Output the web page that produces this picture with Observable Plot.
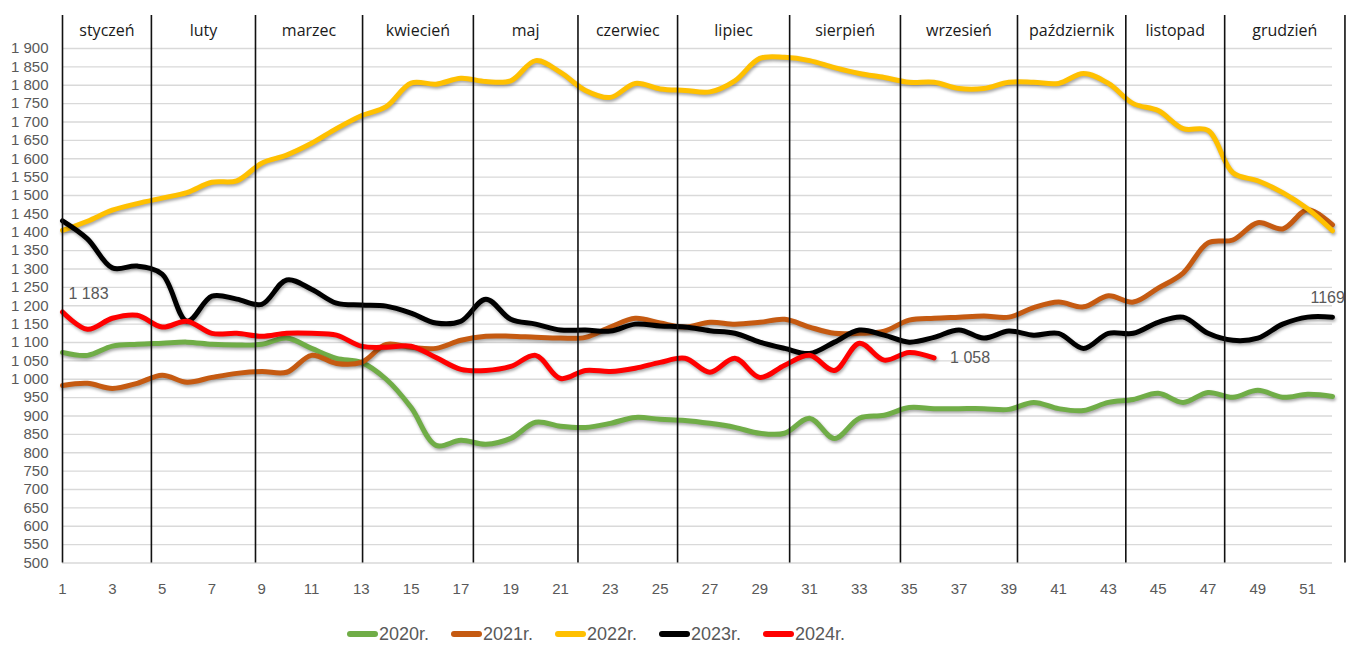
<!DOCTYPE html>
<html>
<head>
<meta charset="utf-8">
<script src="https://cdn.jsdelivr.net/npm/d3@7"></script>
<script src="https://cdn.jsdelivr.net/npm/@observablehq/plot@0.6"></script>
<style>
  body { margin: 0; background: #fff; }
  #chart svg { display: block; }
  #legend { height: 46px; position: relative; font-family: 'Liberation Sans Narrow', 'Liberation Sans', Arial, sans-serif; }
  #legend .items { position: absolute; left: 347px; top: 24px; display: flex; }
  #legend .item { width: 104px; display: flex; align-items: center; height: 20px; }
  #legend .sw { width: 31px; height: 6px; border-radius: 3px; }
  #legend .lb { font-size: 18px; color: #595959; margin-left: 1px; }
</style>
</head>
<body>
<div id="chart"></div>
<div id="legend"><div class="items"></div></div>
<script>
// ---- data ----
const weeks = Array.from({length: 52}, (_, i) => i + 1);
const xTickWeeks = [1,3,5,7,9,11,13,15,17,19,21,23,25,27,29,31,33,35,37,39,41,43,45,47,49,51];
const yTickValues = [500,550,600,650,700,750,800,850,900,950,1000,1050,1100,1150,1200,1250,1300,1350,1400,1450,1500,1550,1600,1650,1700,1750,1800,1850,1900];
const monthNames = ["styczeń","luty","marzec","kwiecień","maj","czerwiec","lipiec","sierpień","wrzesień","październik","listopad","grudzień"];
// week position where each month starts (plus end of year)
const monthBounds = [1, 4.57, 8.75, 13.05, 17.5, 21.7, 25.7, 30.2, 34.65, 39.35, 43.7, 47.67, 52.5];

const seriesNames = ["2020r.","2021r.","2022r.","2023r.","2024r."];
const seriesColors = ["#70ad47","#c55a11","#ffc000","#000000","#ff0000"];

const v2020 = [1073,1065,1090,1095,1098,1101,1095,1093,1095,1112,1084,1057,1046,1000,923,820,834,823,839,883,872,869,880,896,891,888,880,869,853,853,894,839,894,902,923,920,920,920,918,937,920,915,937,945,962,937,964,951,970,951,959,953];
const v2021 = [983,989,975,989,1011,992,1005,1016,1021,1019,1065,1043,1046,1095,1087,1084,1106,1117,1117,1114,1112,1114,1142,1166,1153,1142,1155,1150,1155,1163,1142,1125,1125,1131,1161,1166,1169,1172,1169,1195,1210,1197,1227,1210,1248,1289,1371,1379,1426,1409,1461,1420];
const v2022 = [1405,1430,1460,1478,1493,1508,1536,1540,1588,1610,1642,1682,1717,1742,1806,1803,1819,1810,1812,1867,1835,1786,1767,1805,1790,1786,1782,1812,1873,1876,1867,1848,1832,1821,1808,1808,1791,1791,1808,1808,1805,1832,1805,1750,1731,1682,1677,1562,1540,1508,1464,1404];
const v2023 = [1431,1382,1303,1308,1286,1158,1226,1218,1204,1270,1245,1207,1202,1199,1180,1153,1158,1218,1163,1150,1134,1134,1131,1150,1145,1142,1132,1125,1101,1084,1070,1101,1134,1120,1101,1114,1134,1112,1131,1120,1125,1084,1125,1125,1155,1169,1125,1106,1112,1150,1169,1169];
const v2024 = [1183,1136,1166,1174,1142,1158,1125,1125,1117,1125,1125,1120,1090,1087,1090,1059,1027,1024,1035,1065,1002,1024,1021,1030,1046,1057,1019,1057,1005,1038,1065,1024,1098,1052,1073,1058];

// annotated points
const annWeeks = [1, 36, 52];
const annValues = [1183, 1058, 1169];
const annTexts = ["1 183", "1 058", "1169"];

// ---- build ----
const allValues = [v2020, v2021, v2022, v2023, v2024];
const fmt = d3.formatLocale({decimal: ",", thousands: "\u00a0", grouping: [3], currency: ["", ""]}).format(",d");
const FONT = "'Liberation Sans Narrow', 'Liberation Sans', Arial, sans-serif";

const lineMarks = allValues.map((vals, si) =>
  Plot.line(vals.map((v, i) => ({week: weeks[i], value: v})), {
    x: "week", y: "value", stroke: seriesColors[si], strokeWidth: 5,
    curve: "catmull-rom", strokeLinecap: "round", strokeLinejoin: "round"
  })
);

const months = monthNames.map((name, i) => ({name, mid: (monthBounds[i] + monthBounds[i + 1]) / 2}));
const anns = annTexts.map((t, i) => ({week: annWeeks[i], value: annValues[i], text: t}));

const chart = Plot.plot({
  width: 1350, height: 600,
  marginLeft: 62, marginRight: 18, marginTop: 48, marginBottom: 37.5,
  x: {domain: [1, 52]},
  y: {domain: [500, 1900]},
  style: {fontFamily: FONT, background: "#fff", overflow: "visible"},
  marks: [
    Plot.ruleY(yTickValues, {stroke: "#d9d9d9", strokeWidth: 1.3}),
    ...lineMarks,
    Plot.ruleX(monthBounds, {y1: 500, y2: 1990, stroke: "#111", strokeWidth: 1.6}),
    Plot.text(months, {x: "mid", text: "name", frameAnchor: "top", dy: -24, fontSize: 16,
      fill: "#1a1a1a", fontFamily: "'Open Sans', 'DejaVu Sans', sans-serif"}),
    Plot.text([anns[0]], {x: "week", y: "value", text: "text", dx: 6, dy: -18, textAnchor: "start", fontSize: 16, fill: "#595959"}),
    Plot.text([anns[1]], {x: "week", y: "value", text: "text", dx: 16, dy: 0, textAnchor: "start", fontSize: 16, fill: "#595959"}),
    Plot.text([anns[2]], {x: "week", y: "value", text: "text", dx: -22, dy: -19, textAnchor: "start", fontSize: 16, fill: "#595959"}),
    Plot.axisY({ticks: yTickValues, tickSize: 0, tickPadding: 14, tickFormat: fmt, label: null,
      fontSize: 15, color: "#595959"}),
    Plot.axisX({ticks: xTickWeeks, tickSize: 0, tickPadding: 20, tickFormat: d => String(d), label: null,
      fontSize: 15, color: "#595959"})
  ]
});

d3.select(chart).selectAll('g[aria-label="line"]')
  .style("filter", "drop-shadow(1.5px 2px 1.5px rgba(0,0,0,0.35))");

document.getElementById("chart").appendChild(chart);

const items = d3.select("#legend .items");
seriesNames.forEach((n, i) => {
  const it = items.append("div").attr("class", "item");
  it.append("div").attr("class", "sw").style("background", seriesColors[i]);
  it.append("span").attr("class", "lb").text(n);
});
</script>
</body>
</html>
